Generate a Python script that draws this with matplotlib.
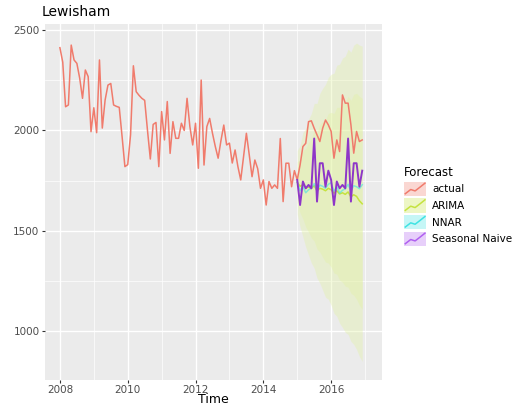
import numpy as np
import matplotlib
matplotlib.use("Agg")
import matplotlib.pyplot as plt
from matplotlib.legend_handler import HandlerBase
from matplotlib.patches import Rectangle
from matplotlib.lines import Line2D

# monthly series, Jan 2008 - Dec 2016
actual = [
    2412, 2340, 2118, 2127, 2425, 2351, 2334, 2260, 2160, 2301, 2268, 1994,
    2113, 1989, 2351, 2012, 2152, 2226, 2234, 2127, 2120, 2115, 1970, 1820,
    1830, 1978, 2322, 2193, 2175, 2160, 2150, 2000, 1858, 2030, 2040, 1820,
    2094, 1953, 2144, 1886, 2044, 1961, 1961, 2036, 2000, 2160, 2019, 1928,
    2036, 1812, 2251, 1828, 2019, 2060, 1986, 1920, 1862, 1950, 2027, 1928,
    1937, 1838, 1903, 1820, 1754, 1870, 1986, 1880, 1770, 1853, 1810, 1712,
    1754, 1629, 1746, 1712, 1729, 1712, 1960, 1646, 1837, 1837, 1720, 1800,
    1754, 1828, 1920, 1936, 2044, 2048, 2011, 1978, 1945, 2011, 2052, 2028,
    1995, 1862, 1953, 1895, 2177, 2136, 2136, 2028, 1887, 1995, 1945, 1953,
]
start_year = 2008

# forecasts, Jan 2015 - Dec 2016
fc_start = 2015
snaive = [
    1754, 1629, 1746, 1712, 1729, 1712, 1960, 1646, 1837, 1837, 1720, 1800,
    1754, 1629, 1746, 1712, 1729, 1712, 1960, 1646, 1837, 1837, 1720, 1800,
]
nnar = [
    1745, 1700, 1722, 1690, 1705, 1712, 1735, 1700, 1728, 1722, 1712, 1732,
    1740, 1698, 1720, 1688, 1702, 1710, 1732, 1698, 1725, 1720, 1710, 1730,
]
arima_mean = [
    1742, 1722, 1730, 1715, 1718, 1712, 1725, 1700, 1712, 1708, 1700, 1712,
    1705, 1688, 1700, 1684, 1690, 1682, 1694, 1670, 1680, 1672, 1650, 1635,
]
arima_lo80 = [
    1640, 1590, 1560, 1520, 1495, 1465, 1450, 1410, 1395, 1370, 1345, 1340,
    1320, 1290, 1285, 1255, 1245, 1225, 1220, 1190, 1180, 1160, 1130, 1110,
]
arima_hi80 = [
    1845, 1855, 1900, 1910, 1940, 1960, 2000, 1990, 2030, 2045, 2055, 2085,
    2090, 2085, 2115, 2115, 2135, 2140, 2170, 2150, 2180, 2185, 2170, 2160,
]
arima_lo95 = [
    1585, 1520, 1470, 1420, 1380, 1340, 1315, 1265, 1240, 1205, 1170, 1160,
    1130, 1090, 1075, 1040, 1020, 995, 985, 950, 935, 910, 875, 850,
]
arima_hi95 = [
    1900, 1925, 1990, 2010, 2055, 2085, 2135, 2135, 2185, 2210, 2230, 2265,
    2280, 2285, 2325, 2330, 2360, 2370, 2405, 2390, 2425, 2435, 2425, 2420,
]

series_labels = ["actual", "ARIMA", "NNAR", "Seasonal Naive"]
series_colors = ["#F07B6C", "#C5E33F", "#3FE3E3", "#8E36C8"]
key_colors = ["#F07B6C", "#C5E33F", "#3FE3E3", "#B060F0"]


class KeyHandler(HandlerBase):
    # ggplot-like legend key: tinted box with a rising line
    def create_artists(self, legend, orig_handle, xdescent, ydescent,
                       width, height, fontsize, trans):
        c = orig_handle.get_color()
        box = Rectangle((-xdescent, -ydescent), width, height, facecolor=c,
                        alpha=0.3, edgecolor="none", transform=trans)
        xs = np.array([0.05, 0.3, 0.5, 0.75, 0.95]) * width - xdescent
        ys = np.array([0.15, 0.45, 0.35, 0.65, 0.9]) * height - ydescent
        ln = Line2D(xs, ys, color=c, lw=1.1, transform=trans)
        return [box, ln]


t_act = start_year + np.arange(len(actual)) / 12
t_fc = fc_start + np.arange(len(snaive)) / 12

fig = plt.figure(figsize=(5.14, 4.05), dpi=100)
ax = fig.add_axes([45 / 514, 25 / 405, 337 / 514, 356 / 405])
ax.set_facecolor("#EBEBEB")

ax.fill_between(t_fc, arima_lo95, arima_hi95, color="#E2F2A0", alpha=0.35, lw=0)
ax.fill_between(t_fc, arima_lo80, arima_hi80, color="#E2F2A0", alpha=0.35, lw=0)

ax.plot(t_act, actual, color=series_colors[0], lw=1.1, zorder=3)
ax.plot(t_fc, arima_mean, color=series_colors[1], lw=1.1, zorder=3)
ax.plot(t_fc, nnar, color=series_colors[2], lw=1.1, alpha=0.6, zorder=3)
ax.plot(t_fc, snaive, color=series_colors[3], lw=1.4, zorder=4)

ax.set_xlim(2007.56, 2017.5)
ax.set_ylim(758, 2530)
ax.set_xticks([2008, 2010, 2012, 2014, 2016])
ax.set_xticks([2009, 2011, 2013, 2015, 2017], minor=True)
ax.set_yticks([1000, 1500, 2000, 2500])
ax.set_yticks([1250, 1750, 2250], minor=True)
ax.grid(which="major", color="white", lw=1.0)
ax.grid(which="minor", color="white", lw=0.5)
ax.set_axisbelow(True)
for s in ax.spines.values():
    s.set_visible(False)
ax.tick_params(which="major", length=2.5, color="#333333", labelcolor="#4D4D4D",
               labelsize=7.5, pad=1.5)
ax.tick_params(axis="x", which="major", pad=1)
ax.tick_params(which="minor", length=0)

fig.text(213 / 514, 1 - 399.5 / 405, "Time", fontsize=9, ha="center", va="center")
fig.text(42 / 514, 1 - 12 / 405, "Lewisham", fontsize=10, va="center", ha="left")

handles = [Line2D([], [], color=c) for c in key_colors]
leg = fig.legend(handles, series_labels, title="Forecast",
                 handler_map={Line2D: KeyHandler()},
                 loc="upper left", bbox_to_anchor=(400 / 514, 1 - 162 / 405),
                 frameon=False, fontsize=7.5, title_fontsize=8.5,
                 handlelength=2.1, handleheight=1.7, labelspacing=0.25,
                 handletextpad=0.6, borderaxespad=0)
leg._legend_box.align = "left"

fig.savefig("out.png", dpi=100)
